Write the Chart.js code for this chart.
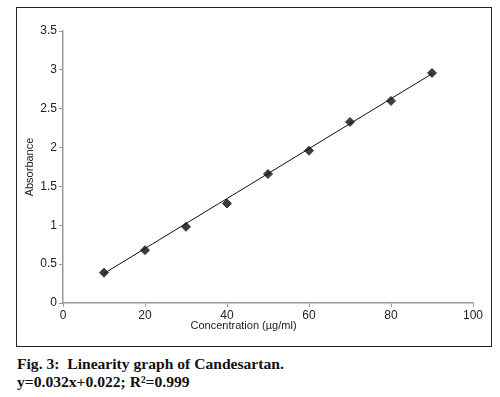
<!DOCTYPE html>
<html>
<head>
<meta charset="utf-8">
<script src="https://cdn.jsdelivr.net/npm/chart.js@4/dist/chart.umd.min.js"></script>
<style>
  body { margin: 0; background: #fff; }
  #frame {
    position: absolute; left: 16px; top: 7px;
    width: 474px; height: 338px;
    border: 1px solid #222;
  }
  #caption {
    position: absolute; left: 17px; top: 355px;
    font-family: "Liberation Serif", serif; font-weight: bold;
    font-size: 15.6px; line-height: 18px; color: #111;
  }
</style>
</head>
<body>
<div id="frame"><canvas id="chart" width="474" height="338"></canvas></div>
<div id="caption">Fig. 3:&nbsp; Linearity graph of Candesartan.<br>y=0.032x+0.022; R²=0.999</div>
<script>
// data
const concentration = [10, 20, 30, 40, 50, 60, 70, 80, 90];
const absorbance = [0.39, 0.68, 0.98, 1.28, 1.66, 1.96, 2.33, 2.60, 2.96];
const fitX = [10, 90];
const fitY = [0.38, 2.95];

const axisFont = { family: '"Liberation Sans", Arial, sans-serif', size: 12 };
const titleFont = { family: '"Liberation Sans", Arial, sans-serif', size: 11 };

new Chart(document.getElementById('chart'), {
    type: 'scatter',
    data: {
        datasets: [
            {
                label: 'Fit',
                data: fitX.map((x, i) => ({ x: x, y: fitY[i] })),
                showLine: true,
                borderColor: '#111',
                borderWidth: 1,
                pointRadius: 0
            },
            {
                label: 'Absorbance',
                data: concentration.map((x, i) => ({ x: x, y: absorbance[i] })),
                pointStyle: 'rectRot',
                pointRadius: 4.5,
                backgroundColor: '#3c3c3c',
                borderColor: '#3c3c3c',
                borderWidth: 1
            }
        ]
    },
    options: {
        responsive: false,
        animation: false,
        layout: { padding: { left: 0, top: 23, right: 18, bottom: 0 } },
        plugins: { legend: { display: false }, tooltip: { enabled: false } },
        scales: {
            x: {
                type: 'linear',
                min: 0, max: 100,
                ticks: { stepSize: 20, color: '#222', font: axisFont, padding: 1, maxRotation: 0 },
                grid: { drawOnChartArea: false, drawTicks: true, tickLength: 4, color: '#9a9a9a' },
                border: { color: '#9a9a9a', width: 1.5 },
                title: {
                    display: true,
                    text: 'Concentration (µg/ml)' + '\u00a0'.repeat(16),
                    color: '#222', font: titleFont,
                    padding: { top: 0, bottom: 13 }
                },
                afterFit: function(scale) { scale.height = 43; }
            },
            y: {
                min: 0, max: 3.5,
                ticks: {
                    stepSize: 0.5, color: '#222', font: axisFont, padding: 2,
                    callback: function(value) { return String(value); }
                },
                grid: { drawOnChartArea: false, drawTicks: true, tickLength: 4, color: '#9a9a9a' },
                border: { color: '#9a9a9a', width: 1.5 },
                title: {
                    display: true,
                    text: 'Absorbance',
                    color: '#222', font: titleFont,
                    padding: { top: 6, bottom: 0 }
                },
                afterFit: function(scale) { scale.width = 46; }
            }
        }
    }
});
</script>
</body>
</html>
